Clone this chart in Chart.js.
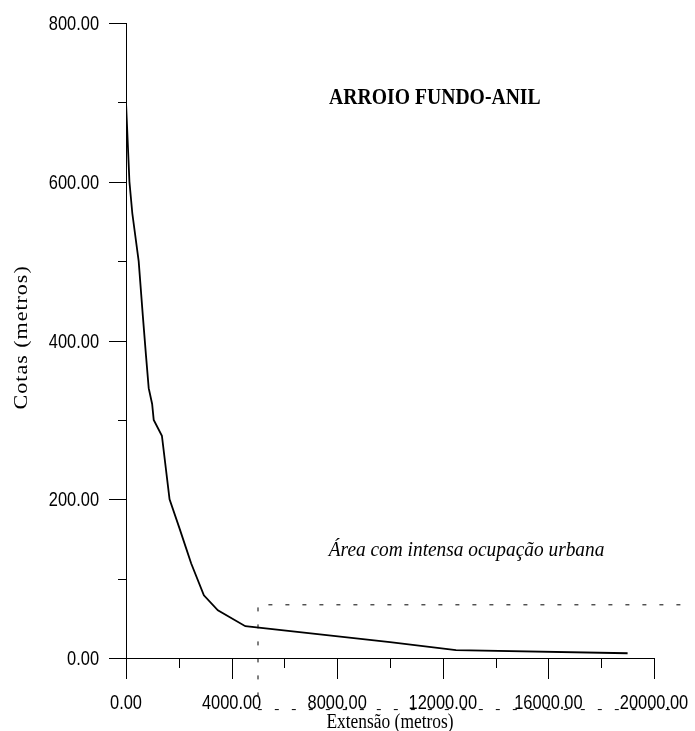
<!DOCTYPE html>
<html>
<head>
<meta charset="utf-8">
<script src="https://cdn.jsdelivr.net/npm/chart.js@4.4.1/dist/chart.umd.min.js"></script>
<style>
  body { margin: 0; background: #fff; }
  #perfil { display: block; }
</style>
</head>
<body>
<canvas id="perfil" width="695" height="731"></canvas>
<script>
// perfil longitudinal (distância em metros, cota em metros)
const distancia = [0, 130, 240, 480, 640, 760, 860, 990, 1050, 1360, 1650, 2030, 2260, 2470, 2950, 3480, 4520, 10000, 12500, 19000];
const cota = [700, 600, 560, 500, 430, 380, 340, 320, 300, 280, 200, 163, 140, 119, 79, 60, 40, 20, 10, 6];

// contorno tracejado da área urbana
const zonaX = [21000, 5000, 5000, 21000];
const zonaY = [67, 67, -65, -65];

const xTicks = [0, 4000, 8000, 12000, 16000, 20000];
const xMinor = [2000, 6000, 10000, 14000, 18000];
const yTicks = [0, 200, 400, 600, 800];
const yMinor = [100, 300, 500, 700];

const titulo = 'ARROIO FUNDO-ANIL';
const legendaArea = 'Área com intensa ocupação urbana';
const tituloX = 'Extensão (metros)';
const tituloY = 'Cotas (metros)';

const fonteNum = '"Liberation Sans", Arial, sans-serif';
const fonteSerif = '"Liberation Serif", "Times New Roman", serif';

// texto com compressão horizontal
function textoEstreito(ctx, txt, x, y, sx, font, align) {
    ctx.save();
    ctx.translate(x, y);
    ctx.scale(sx, 1);
    ctx.font = font;
    ctx.textAlign = align;
    ctx.textBaseline = 'alphabetic';
    ctx.fillStyle = '#000';
    ctx.fillText(txt, 0, 0);
    ctx.restore();
}

// marcas dos eixos, rótulos numéricos e textos
const marcasPlugin = {
    id: 'marcas',
    afterDraw(chart) {
        const ctx = chart.ctx;
        const xs = chart.scales.x, ys = chart.scales.y;
        const area = chart.chartArea;
        ctx.save();
        ctx.strokeStyle = '#000';
        ctx.lineWidth = 1;
        ctx.beginPath();
        xTicks.forEach(v => {
            const px = Math.round(xs.getPixelForValue(v)) + 0.5;
            ctx.moveTo(px, area.bottom); ctx.lineTo(px, area.bottom + 21);
        });
        xMinor.forEach(v => {
            const px = Math.round(xs.getPixelForValue(v)) + 0.5;
            ctx.moveTo(px, area.bottom); ctx.lineTo(px, area.bottom + 10);
        });
        yTicks.forEach(v => {
            const py = Math.round(ys.getPixelForValue(v)) + 0.5;
            ctx.moveTo(area.left, py); ctx.lineTo(area.left - 17, py);
        });
        yMinor.forEach(v => {
            const py = Math.round(ys.getPixelForValue(v)) + 0.5;
            ctx.moveTo(area.left, py); ctx.lineTo(area.left - 8, py);
        });
        ctx.stroke();
        ctx.restore();

        const fNum = '20px ' + fonteNum;
        xTicks.forEach(v => {
            textoEstreito(ctx, v.toFixed(2), xs.getPixelForValue(v), area.bottom + 51, 0.82, fNum, 'center');
        });
        yTicks.forEach(v => {
            textoEstreito(ctx, v.toFixed(2), area.left - 27, ys.getPixelForValue(v) + 7, 0.82, fNum, 'right');
        });

        textoEstreito(ctx, titulo, xs.getPixelForValue(11700), ys.getPixelForValue(698),
            0.82, 'bold 24px ' + fonteSerif, 'center');
        textoEstreito(ctx, legendaArea, xs.getPixelForValue(12900), ys.getPixelForValue(128),
            0.88, 'italic 22px ' + fonteSerif, 'center');
        textoEstreito(ctx, tituloX, xs.getPixelForValue(10000), 728,
            0.87, '20px ' + fonteSerif, 'center');

        // título do eixo y, rotacionado
        ctx.save();
        ctx.translate(22, ys.getPixelForValue(404));
        ctx.rotate(-Math.PI / 2);
        ctx.scale(1, 0.85);
        ctx.font = '22px ' + fonteSerif;
        ctx.letterSpacing = '1px';
        ctx.textAlign = 'center';
        ctx.textBaseline = 'middle';
        ctx.fillStyle = '#000';
        ctx.fillText(tituloY, 0, 0);
        ctx.restore();
    }
};

const ctx = document.getElementById('perfil').getContext('2d');
new Chart(ctx, {
    type: 'scatter',
    data: {
        datasets: [{
            data: distancia.map((d, i) => ({ x: d, y: cota[i] })),
            showLine: true,
            borderColor: '#000',
            borderWidth: 1.8,
            pointRadius: 0,
            tension: 0
        }, {
            data: zonaX.map((d, i) => ({ x: d, y: zonaY[i] })),
            showLine: true,
            borderColor: '#000',
            borderWidth: 1,
            borderDash: [4, 13],
            pointRadius: 0,
            clip: false
        }]
    },
    options: {
        responsive: false,
        animation: false,
        layout: { padding: { left: 0, top: 23, right: 41, bottom: 0 } },
        plugins: {
            legend: { display: false },
            tooltip: { enabled: false }
        },
        scales: {
            x: {
                type: 'linear',
                min: 0,
                max: 20000,
                afterBuildTicks: s => { s.ticks = xTicks.map(v => ({ value: v })); },
                afterFit: s => { s.height = 73; },
                grid: { display: true, drawOnChartArea: false, drawTicks: false },
                border: { display: true, color: '#000', width: 1 },
                ticks: { display: false }
            },
            y: {
                type: 'linear',
                min: 0,
                max: 800,
                afterBuildTicks: s => { s.ticks = yTicks.map(v => ({ value: v })); },
                afterFit: s => { s.width = 126; },
                grid: { display: true, drawOnChartArea: false, drawTicks: false },
                border: { display: true, color: '#000', width: 1 },
                ticks: { display: false }
            }
        }
    },
    plugins: [marcasPlugin]
});
</script>
</body>
</html>
